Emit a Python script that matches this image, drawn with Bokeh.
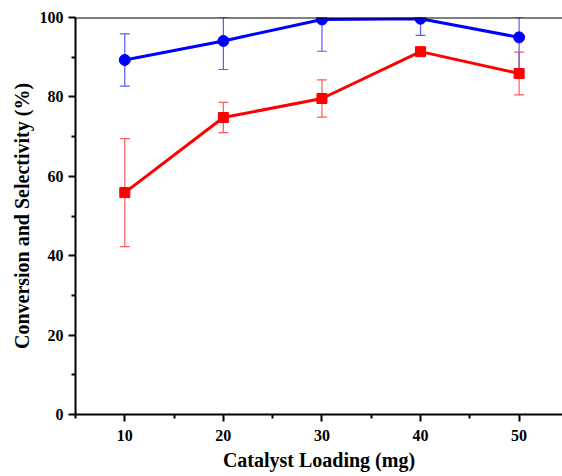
from bokeh.plotting import figure
from bokeh.models import Range1d, Whisker, ColumnDataSource, Span, FixedTicker
from bokeh.embed import file_html
from bokeh.resources import INLINE
import numpy as np

# Catalyst loading (mg)
loading = [10, 20, 30, 40, 50]

# Conversion (%) with error
conversion = [89.3, 94.1, 99.5, 99.7, 95.0]
conversion_err = [6.6, 7.2, 8.0, 4.2, 10.2]

# Selectivity (%) with error
selectivity = [55.9, 74.8, 79.6, 91.4, 85.9]
selectivity_err = [13.6, 3.8, 4.7, 0.4, 5.4]

x_ticks = [10, 20, 30, 40, 50]
y_ticks = [0, 20, 40, 60, 80, 100]

FONT = "Liberation Serif"

p = figure(width=562, height=476, output_backend="svg", toolbar_location=None,
           x_range=Range1d(5, 54.4), y_range=Range1d(0, 100),
           min_border_left=75, min_border_right=0, min_border_top=17, min_border_bottom=62)
p.outline_line_color = None
p.grid.grid_line_color = None
p.background_fill_color = "white"
p.border_fill_color = "white"


def add_series(y, err, color, err_color, marker):
    y = np.array(y, dtype=float)
    e = np.array(err, dtype=float)
    src = ColumnDataSource(dict(x=loading, y=y,
                                lo=y - e, hi=np.minimum(y + e, 100.0)))
    w = Whisker(source=src, base="x", lower="lo", upper="hi",
                line_color=err_color, line_width=1.2)
    w.upper_head.size = 10
    w.lower_head.size = 10
    w.upper_head.line_color = err_color
    w.lower_head.line_color = err_color
    w.upper_head.line_width = 1.2
    w.lower_head.line_width = 1.2
    p.add_layout(w)
    p.line("x", "y", source=src, line_color=color, line_width=3)
    if marker == "circle":
        p.scatter("x", "y", source=src, marker="circle", size=11,
                  fill_color=color, line_color=color)
    else:
        p.scatter("x", "y", source=src, marker="square", size=10,
                  fill_color=color, line_color=color)


add_series(selectivity, selectivity_err, "#ff0000", "#ff5a5a", "square")
add_series(conversion, conversion_err, "#0000ff", "#5a5aff", "circle")

# top frame line
p.add_layout(Span(location=100, dimension="width", line_color="black", line_width=2))

for ax in (p.xaxis[0], p.yaxis[0]):
    ax.axis_line_width = 2
    ax.axis_line_color = "black"
    ax.major_tick_line_width = 2
    ax.minor_tick_line_width = 2
    ax.major_tick_in = 0
    ax.major_tick_out = 7
    ax.minor_tick_in = 0
    ax.minor_tick_out = 4
    ax.major_label_text_font = FONT
    ax.major_label_text_font_style = "bold"
    ax.major_label_text_font_size = "16px"
    ax.major_label_text_color = "black"
    ax.axis_label_text_font = FONT
    ax.axis_label_text_font_style = "bold"
    ax.axis_label_text_font_size = "20px"
    ax.axis_label_text_color = "black"

p.xaxis[0].ticker = FixedTicker(ticks=x_ticks, minor_ticks=[5, 15, 25, 35, 45])
p.yaxis[0].ticker = FixedTicker(ticks=y_ticks, minor_ticks=[10, 30, 50, 70, 90])
p.xaxis[0].axis_label = "Catalyst Loading (mg)"
p.yaxis[0].axis_label = "Conversion and Selectivity (%)"
p.xaxis[0].major_label_standoff = 8
p.xaxis[0].axis_label_standoff = 5
p.yaxis[0].major_label_standoff = 5
p.yaxis[0].axis_label_standoff = 4

open("out.html", "w").write(file_html(p, INLINE))
